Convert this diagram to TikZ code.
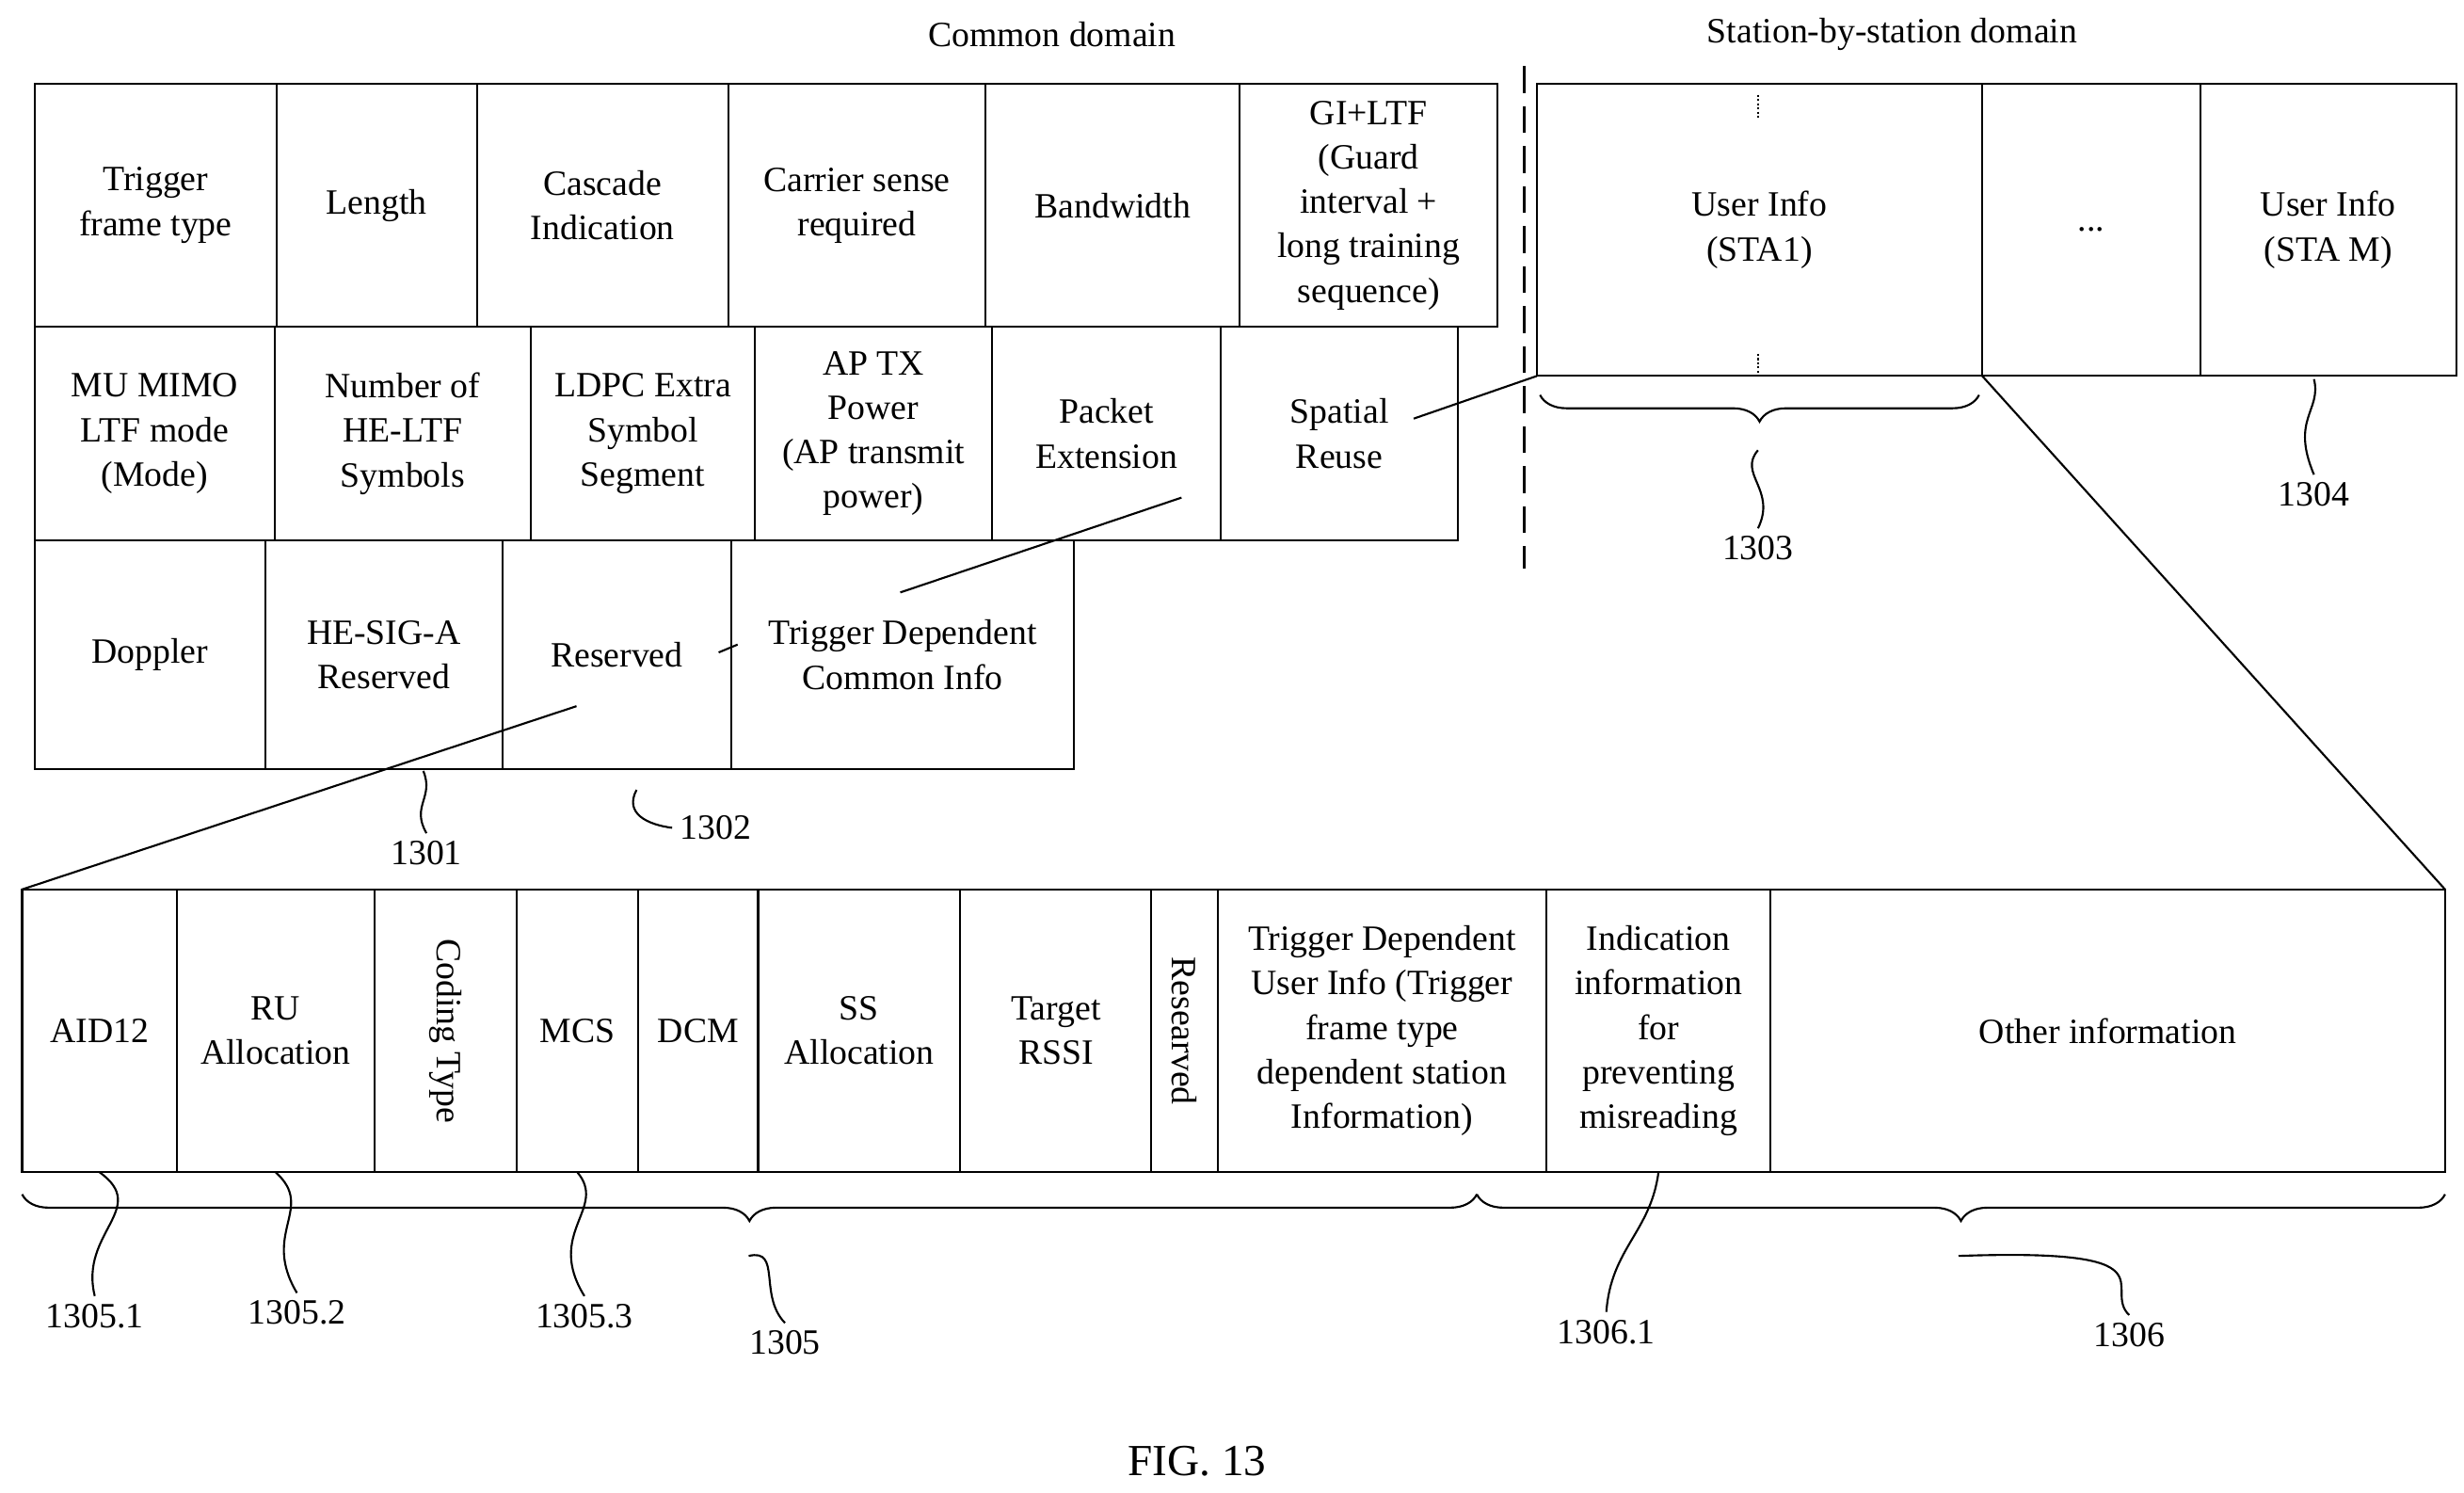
\documentclass[tikz,border=0pt]{standalone}
\usepackage{fontspec}
\setmainfont{Liberation Serif}
\usetikzlibrary{decorations.pathreplacing}
\tikzset{
  cell/.style={draw, line width=0.9pt, inner sep=0pt, outer sep=0pt, align=center},
  lead/.style={line width=0.9pt},
  brc/.style={line width=0.9pt, decorate, decoration={brace, mirror, amplitude=12pt}}
}
% cell: name, x1, x2, y1, y2, text
\newcommand{\cell}[6]{%
  \pgfmathsetmacro\cw{(#3-#2)*0.025}%
  \pgfmathsetmacro\ch{(#5-#4)*0.025}%
  \node[cell, minimum width=\cw cm, minimum height=\ch cm] (#1) at ({(#2+#3)/2},{(#4+#5)/2}) {#6};}
\begin{document}
\begin{tikzpicture}[x=0.025cm, y=-0.025cm, font=\fontsize{16}{20}\selectfont]
    \useasboundingbox (0,0) rectangle (1560,945);

    % Headings
    \node (common) at (666,22) {Common domain};
    \node (station) at (1198,22) {Station-by-station domain};
    \draw[lead, dash pattern=on 12pt off 6pt] (965,42) -- (965,360);

    % First row
    \cell{type}{22}{175}{53}{207}{Trigger\\frame type}
    \cell{len}{175}{302}{53}{207}{Length}
    \cell{casc}{302}{461}{53}{207}{Cascade\\Indication}
    \cell{cs}{461}{624}{53}{207}{Carrier sense\\required}
    \cell{bw}{624}{785}{53}{207}{Bandwidth}
    \cell{gi}{785}{948}{53}{207}{GI+LTF\\(Guard\\interval +\\long training\\sequence)}

    % Second row
    \cell{mimo}{22}{174}{207}{342}{MU MIMO\\LTF mode\\(Mode)}
    \cell{nltf}{174}{336}{207}{342}{Number of\\HE-LTF\\Symbols}
    \cell{ldpc}{336}{478}{207}{342}{LDPC Extra\\Symbol\\Segment}
    \cell{txp}{478}{628}{207}{342}{AP TX\\Power\\(AP transmit\\power)}
    \cell{pe}{628}{773}{207}{342}{Packet\\Extension}
    \cell{sr}{773}{923}{207}{342}{Spatial\\Reuse}

    % Third row
    \cell{dop}{22}{168}{342}{487}{Doppler}
    \cell{sig}{168}{318}{342}{487}{HE-SIG-A\\Reserved}
    \cell{res}{318}{463}{342}{487}{Reserved}
    \cell{tdci}{463}{680}{342}{487}{Trigger Dependent\\Common Info}

    % User info fields
    \cell{ui1}{973}{1255}{53}{238}{User Info\\(STA1)}
    \cell{dots}{1255}{1393}{53}{238}{...}
    \cell{uim}{1393}{1555}{53}{238}{User Info\\(STA M)}
    \draw[lead, densely dotted] (1113,60) -- (1113,75);
    \draw[lead, densely dotted] (1113,224) -- (1113,238);

    % Expanded user info
    \cell{aid}{14}{112}{563}{742}{AID12}
    \cell{ru}{112}{237}{563}{742}{RU\\Allocation}
    \cell{cod}{237}{327}{563}{742}{\rotatebox{-90}{Coding Type}}
    \cell{mcs}{327}{404}{563}{742}{MCS}
    \cell{dcm}{404}{480}{563}{742}{DCM}
    \cell{ss}{480}{608}{563}{742}{SS\\Allocation}
    \cell{rssi}{608}{729}{563}{742}{Target\\RSSI}
    \cell{rsv}{729}{771}{563}{742}{\rotatebox{-90}{Researved}}
    \cell{tdui}{771}{979}{563}{742}{Trigger Dependent\\User Info (Trigger\\frame type\\dependent station\\Information)}
    \cell{ind}{979}{1121}{563}{742}{Indication\\information\\for\\preventing\\misreading}
    \cell{other}{1121}{1548}{563}{742}{Other information}
    \foreach \n in {aid,ru,cod,mcs,dcm,ss,rssi,rsv,tdui,ind}
        \path (\n.center) ++(0,-60) coordinate (\n-t);

    % Zoom lines
    \coordinate (resp) at (365,447);
    \coordinate (srp) at (895,265);
    \coordinate (tdp) at (570,375);
    \coordinate (tdq) at (748,315);
    \draw[lead] (aid.north west) -- (resp);
    \draw[lead] (other.north east) -- (ui1.south east);
    \draw[lead] (srp) -- (ui1.south west);
    \draw[lead] (tdp) -- (tdq);
    \draw[lead] (455,413) -- (467,408);

    % Braces
    \draw[brc] (975,250) -- (1253,250);
    \draw[brc] (14,756) -- (935,756);
    \draw[brc] (935,756) -- (1548,756);

    % Reference numbers
    \node (n1303) at (1113,347) {1303};
    \draw[lead] (1113,285) .. controls (1100,300) and (1125,310) .. (n1303.north);
    \node (n1304) at (1465,313) {1304};
    \draw[lead] (1465,240) .. controls (1470,260) and (1450,265) .. (n1304.north);
    \node (n1301) at (270,540) {1301};
    \draw[lead] (268,488) .. controls (275,505) and (260,510) .. (n1301.north);
    \node (n1302) at (453,524) {1302};
    \draw[lead] (403,500) .. controls (395,515) and (410,522) .. (n1302.west);
    \node (n1305) at (497,850) {1305};
    \draw[lead] (474,795) .. controls (495,790) and (480,820) .. (n1305.north);
    \node (n1306) at (1348,845) {1306};
    \draw[lead] (1240,795) .. controls (1380,790) and (1330,815) .. (n1306.north);
    \node (n13051) at (60,833) {1305.1};
    \draw[lead] (aid.south) ++(0,0) .. controls (95,765) and (50,780) .. (n13051.north);
    \node (n13052) at (188,831) {1305.2};
    \draw[lead] (ru.south) .. controls (200,765) and (165,780) .. (n13052.north);
    \node (n13053) at (370,833) {1305.3};
    \draw[lead] (mcs.south) .. controls (385,765) and (345,780) .. (n13053.north);
    \node (n13061) at (1017,843) {1306.1};
    \draw[lead] (ind.south) .. controls (1045,780) and (1020,790) .. (n13061.north);

    \node (fig) at (758,925) {\fontsize{20}{24}\selectfont FIG. 13};
\end{tikzpicture}
\end{document}
